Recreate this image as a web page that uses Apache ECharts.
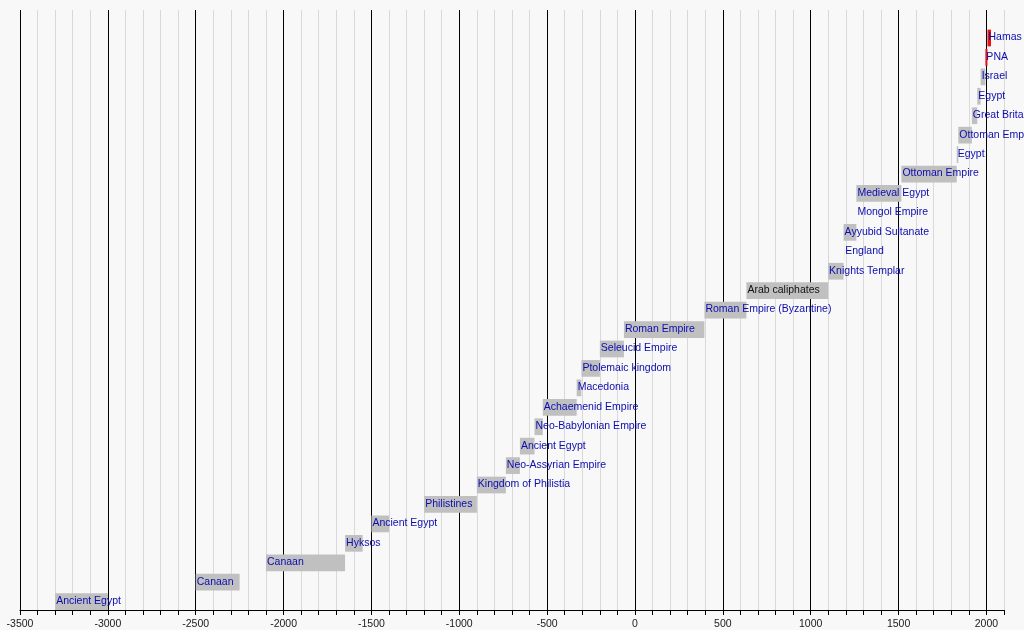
<!DOCTYPE html>
<html>
<head>
<meta charset="utf-8">
<script src="https://cdn.jsdelivr.net/npm/echarts@6/dist/echarts.min.js"></script>
<style>
html,body{margin:0;padding:0;background:#f8f8f8;}
#chart{width:1024px;height:630px;}
</style>
</head>
<body>
<div id="chart"></div>
<script>
// Rows from bottom (oldest) to top (newest)
const entities = [
  'Ancient Egypt', 'Canaan', 'Canaan', 'Hyksos', 'Ancient Egypt', 'Philistines',
  'Kingdom of Philistia', 'Neo-Assyrian Empire', 'Ancient Egypt', 'Neo-Babylonian Empire',
  'Achaemenid Empire', 'Macedonia', 'Ptolemaic kingdom', 'Seleucid Empire', 'Roman Empire',
  'Roman Empire (Byzantine)', 'Arab caliphates', 'Knights Templar', 'England', 'Ayyubid Sultanate',
  'Mongol Empire', 'Medieval Egypt', 'Ottoman Empire', 'Egypt', 'Ottoman Empire',
  'Great Britain', 'Egypt', 'Israel', 'PNA', 'Hamas'
];
const startYears = [
  -3300, -2500, -2100, -1650, -1500, -1200,
  -900, -735, -655, -572,
  -525, -332, -305, -200, -63,
  395, 634, 1099, 1191, 1187,
  1260, 1260, 1516, 1831, 1840,
  1917, 1948, 1967, 1994, 2006
];
const endYears = [
  -3000, -2250, -1650, -1550, -1400, -900,
  -735, -655, -572, -525,
  -332, -305, -200, -63, 395,
  634, 1099, 1187, 1192, 1260,
  1260, 1516, 1831, 1840, 1917,
  1948, 1967, 1994, 2006, 2026
];
// whether the label is a wiki link (blue) or plain text
const linked = [
  true, true, true, true, true, true,
  true, true, true, true,
  true, true, true, true, true,
  true, false, true, true, true,
  true, true, true, true, true,
  true, true, true, true, true
];
// entities shown in the Palestinian-governance group
const palestinianGovernance = ['PNA', 'Hamas'];

const axisMin = -3500, axisMax = 2100;
const majorStep = 500, minorStep = 100;

const seriesData = entities.map((name, i) => [i, startYears[i], endYears[i], name, linked[i] ? 1 : 0]);

const chart = echarts.init(document.getElementById('chart'), null, {renderer: 'canvas'});

const splitColors = [];
for (let k = 0; k < majorStep / minorStep; k++) splitColors.push(k === 0 ? '#000000' : '#d9d9d9');

chart.setOption({
  backgroundColor: '#f8f8f8',
  animation: false,
  grid: {left: 20, right: 20, top: 10, bottom: 20, containLabel: false},
  xAxis: {
    type: 'value',
    min: axisMin,
    max: axisMax,
    interval: minorStep,
    axisLine: {show: true, onZero: false, lineStyle: {color: '#000', width: 1}},
    axisTick: {show: true, length: 5, lineStyle: {color: '#000', width: 1}},
    axisLabel: {
      show: true,
      margin: 9,
      color: '#1a1a1a',
      fontSize: 10.5,
      fontFamily: 'Liberation Sans, Arial, sans-serif',
      formatter: v => (Math.round(v) % majorStep === 0 ? String(Math.round(v)) : '')
    },
    splitLine: {show: true, lineStyle: {color: splitColors, width: 1}}
  },
  yAxis: {
    type: 'value',
    min: -0.43,
    max: 30.44,
    show: false,
    splitLine: {show: false}
  },
  series: [{
    type: 'custom',
    clip: false,
    encode: {x: [1, 2], y: 0},
    data: seriesData,
    renderItem: function (params, api) {
      const i = api.value(0);
      const s = api.value(1);
      const e = api.value(2);
      const name = entities[i];
      const isLinked = api.value(4) === 1;
      const p0 = api.coord([s, i]);
      const p1 = api.coord([e, i]);
      const h = api.size([0, 1])[1] * 0.86;
      const barFill = palestinianGovernance.indexOf(name) >= 0 ? '#ee1111' : '#c0c0c0';
      const children = [];
      const w = p1[0] - p0[0];
      if (w > 0) {
        children.push({
          type: 'rect',
          shape: {x: p0[0], y: p0[1] - h / 2, width: w, height: h},
          style: {fill: barFill}
        });
      }
      children.push({
        type: 'text',
        style: {
          text: name,
          x: p0[0] + 1,
          y: p0[1] - 0.5,
          align: 'left',
          verticalAlign: 'middle',
          fontSize: 10.5,
          fontFamily: 'Liberation Sans, Arial, sans-serif',
          fill: isLinked ? '#0c0cae' : '#111111'
        }
      });
      return {type: 'group', children: children};
    }
  }]
});
</script>
</body>
</html>
